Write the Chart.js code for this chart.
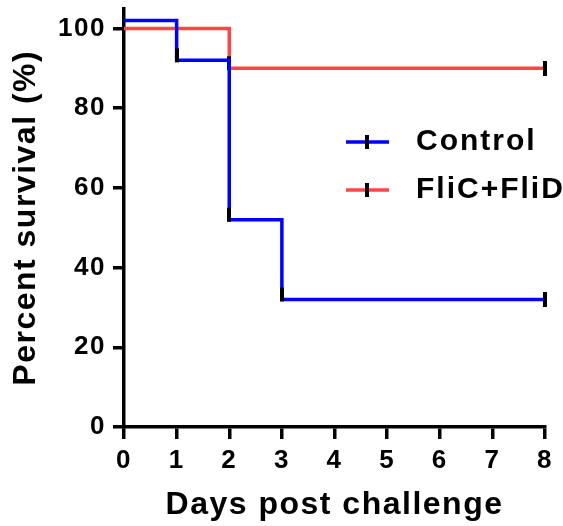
<!DOCTYPE html>
<html>
<head>
<meta charset="utf-8">
<script src="https://cdn.jsdelivr.net/npm/chart.js@4"></script>
<style>
  html, body { margin: 0; padding: 0; background: #fff; }
  #wrap { width: 563px; height: 526px; }
</style>
</head>
<body>
<div id="wrap"><canvas id="chart" width="563" height="526"></canvas></div>
<script>
// Data
const seriesNames = ["Control", "FliC+FliD"];
const controlDays = [0, 1, 2, 3, 8];
const controlSurvival = [102, 92, 52, 32, 32];
const flicDays = [0, 2, 8];
const flicSurvival = [100, 90, 90];
const xTickValues = [0, 1, 2, 3, 4, 5, 6, 7, 8];
const yTickValues = [0, 20, 40, 60, 80, 100];

const BLUE = "#0000FF";
const RED = "#FF4646";

// Small black marks: one sits on the step corner, one is the censor tick at the end
function makeMark(w, h, top, bottom) {
  const c = document.createElement("canvas");
  c.width = w;
  c.height = h;
  const g = c.getContext("2d");
  g.fillStyle = "#000";
  g.fillRect(0, top, w, bottom - top);
  return c;
}
const dropMark = makeMark(4, 26, 1, 15);
const endMark = makeMark(4, 15, 0, 15);

function toPoints(xs, ys) {
  return xs.map((x, i) => ({ x: x, y: ys[i] }));
}

function markStyle(ctx) {
  const n = ctx.dataset.data.length;
  if (ctx.dataIndex === 0) return false;
  if (ctx.dataIndex === n - 1) return endMark;
  return dropMark;
}

function makeSeries(label, xs, ys, color) {
  return {
    label: label,
    data: toPoints(xs, ys),
    borderColor: color,
    backgroundColor: color,
    borderWidth: 3.5,
    stepped: "before",
    fill: false,
    clip: false,
    pointStyle: markStyle,
    pointRadius: (ctx) => (ctx.dataIndex === 0 ? 0 : 5),
    pointHoverRadius: 0,
  };
}

// Legend drawn inside the plot, on the right
const innerLegend = {
  id: "innerLegend",
  afterDraw(chart) {
    const ctx = chart.ctx;
    const rows = [142, 190];
    ctx.save();
    chart.data.datasets.forEach((ds, i) => {
      const y = rows[i];
      ctx.strokeStyle = ds.borderColor;
      ctx.lineWidth = 3.5;
      ctx.beginPath();
      ctx.moveTo(346, y);
      ctx.lineTo(389, y);
      ctx.stroke();
      ctx.fillStyle = "#000";
      ctx.fillRect(365, y - 7, 4, 14);
      ctx.letterSpacing = "2px";
      ctx.font = "bold 30px 'Liberation Sans', Arial, sans-serif";
      ctx.textBaseline = "middle";
      ctx.textAlign = "left";
      ctx.fillText(ds.label, 416, y);
    });
    ctx.restore();
  },
};

const spacing = {
  id: "spacing",
  beforeDraw(chart) {
    chart.ctx.letterSpacing = "1.5px";
  },
};

const FONT = "'Liberation Sans', Arial, sans-serif";

new Chart(document.getElementById("chart"), {
  type: "line",
  data: {
    datasets: [
      makeSeries(seriesNames[0], controlDays, controlSurvival, BLUE),
      makeSeries(seriesNames[1], flicDays, flicSurvival, RED),
    ],
  },
  options: {
    responsive: false,
    animation: false,
    events: [],
    layout: { padding: { top: 8, right: 18, left: 0, bottom: 0 } },
    plugins: {
      legend: { display: false },
      tooltip: { enabled: false },
    },
    scales: {
      x: {
        type: "linear",
        min: 0,
        max: 8,
        afterBuildTicks: (s) => { s.ticks = xTickValues.map((v) => ({ value: v })); },
        afterFit: (s) => {
          s.height = 99;
          s.paddingLeft = 0;
          s.paddingRight = 0;
        },
        border: { color: "#000", width: 3.5 },
        grid: { drawOnChartArea: false, drawTicks: true, tickLength: 12, color: "#000", lineWidth: 3.5 },
        ticks: { color: "#000", padding: 6, font: { family: FONT, size: 26, weight: "bold" } },
        title: {
          display: true,
          text: "Days post challenge",
          color: "#000",
          padding: { top: 0, bottom: 2 },
          font: { family: FONT, size: 32, weight: "bold" },
        },
      },
      y: {
        type: "linear",
        min: 0,
        max: 105,
        afterBuildTicks: (s) => { s.ticks = yTickValues.map((v) => ({ value: v })); },
        afterFit: (s) => {
          s.width = 124;
          s.paddingTop = 0;
          s.paddingBottom = 0;
        },
        border: { color: "#000", width: 3.5 },
        grid: { drawOnChartArea: false, drawTicks: true, tickLength: 11, color: "#000", lineWidth: 3.5 },
        ticks: { color: "#000", padding: 7, font: { family: FONT, size: 26, weight: "bold" } },
        title: {
          display: true,
          text: "Percent survival (%)",
          color: "#000",
          padding: { top: 7, bottom: 0 },
          font: { family: FONT, size: 32, weight: "bold" },
        },
      },
    },
  },
  plugins: [spacing, innerLegend],
});
</script>
</body>
</html>
